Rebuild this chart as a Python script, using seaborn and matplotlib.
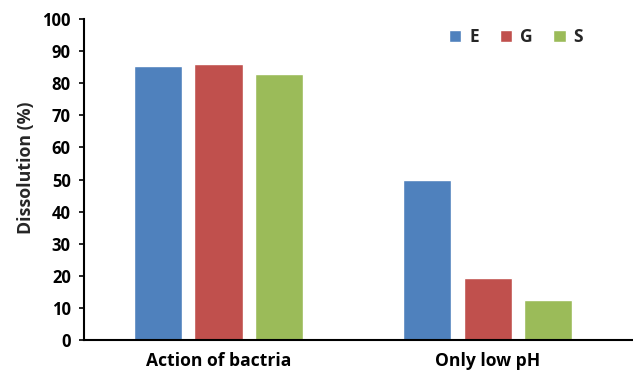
import matplotlib
matplotlib.use("Agg")
import matplotlib.pyplot as plt
import seaborn as sns
import pandas as pd

# Dissolution measured under two conditions for three samples
conditions = ["Action of bactria", "Only low pH"]
samples = ["E", "G", "S"]
values_E = [85.4, 49.7]
values_G = [85.9, 19.3]
values_S = [82.8, 12.4]
colors = ["#4F81BD", "#C0504D", "#9BBB59"]
y_ticks = [0, 10, 20, 30, 40, 50, 60, 70, 80, 90, 100]

rows = []
for s, vals in zip(samples, [values_E, values_G, values_S]):
    for c, v in zip(conditions, vals):
        rows.append({"Condition": c, "Sample": s, "Dissolution": v})
df = pd.DataFrame(rows)

sns.set_theme(style="white")
plt.rcParams["font.family"] = ["Open Sans", "DejaVu Sans"]

fig = plt.figure(figsize=(6.33, 3.70), dpi=100)
ax = fig.add_axes([84 / 633, 1 - 340 / 370, (632 - 84) / 633, (340 - 19) / 370])

sns.barplot(data=df, x="Condition", y="Dissolution", hue="Sample",
            order=conditions, hue_order=samples, palette=colors,
            width=0.67, gap=0.2, saturation=1, errorbar=None, ax=ax)

ax.set_ylim(0, 100)
ax.set_xlim(-0.5, 1.537)
ax.set_yticks(y_ticks)
ax.set_yticklabels([str(t) for t in y_ticks], fontsize=12, fontweight="bold")
ax.set_xticks(range(len(conditions)))
ax.set_xticklabels(conditions, fontsize=12.6, fontweight="bold")
ax.set_xlabel("")
ax.set_ylabel("Dissolution (%)", fontsize=12.8, fontweight="bold")
ax.yaxis.set_label_coords(-0.09, 0.536)

for side in ["top", "right"]:
    ax.spines[side].set_visible(False)
for side in ["left", "bottom"]:
    ax.spines[side].set_color("black")
    ax.spines[side].set_linewidth(1.5)

ax.tick_params(axis="y", which="major", left=True, length=3.5, width=1.2,
               color="black", pad=6, labelcolor="black")
ax.tick_params(axis="x", which="major", bottom=False, pad=3, labelcolor="black")

handles, labels = ax.get_legend_handles_labels()
leg = ax.legend(handles, labels, ncol=3, frameon=False,
                loc="center", bbox_to_anchor=(516 / 633, 1 - 37 / 370),
                bbox_transform=fig.transFigure,
                handlelength=0.72, handleheight=0.72, handletextpad=0.45,
                columnspacing=1.2, prop={"size": 12.5, "weight": "bold"})

fig.savefig("out.png", dpi=100)
